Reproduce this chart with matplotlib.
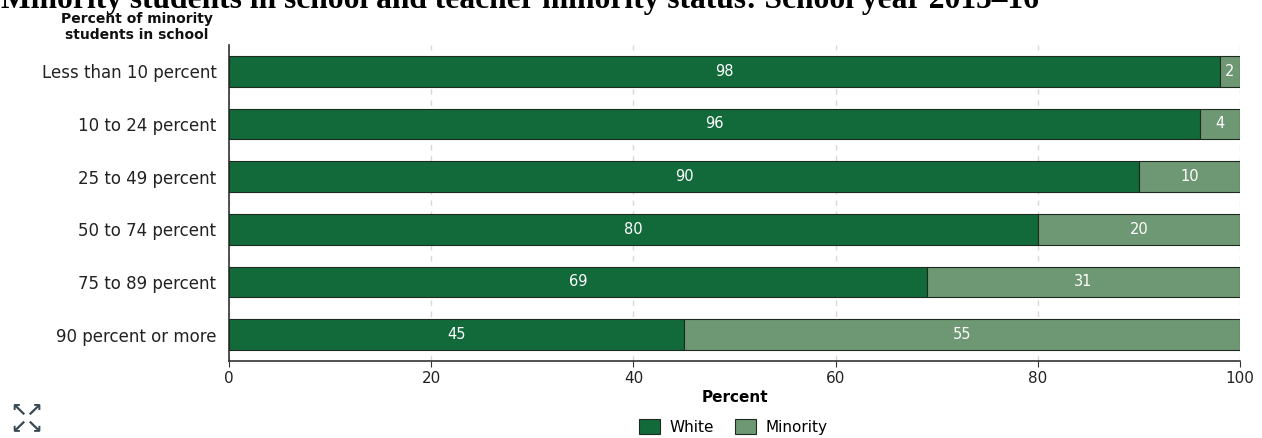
import numpy as np
import matplotlib.pyplot as plt

categories = ['Less than 10 percent', '10 to 24 percent', '25 to 49 percent',
              '50 to 74 percent', '75 to 89 percent', '90 percent or more']
white = [98, 96, 90, 80, 69, 45]
minority = [2, 4, 10, 20, 31, 55]
xticks = [0, 20, 40, 60, 80, 100]

dark_green = '#126a3a'
light_green = '#6e9773'

plt.rcParams['font.family'] = ['DejaVu Sans']

fig = plt.figure(figsize=(12.62, 4.38), dpi=100)
ax = fig.add_axes([229 / 1262, 1 - 361 / 438, 1011 / 1262, 316 / 438])

y = np.arange(len(categories))
h = 0.58
ax.barh(y, white, height=h, color=dark_green, edgecolor='#1c2a20', linewidth=0.8, zorder=3, label='White')
ax.barh(y, minority, left=white, height=h, color=light_green, edgecolor='#1c2a20', linewidth=0.8, zorder=3, label='Minority')

# value labels in the middle of each segment
for i in range(len(categories)):
    ax.text(white[i] / 2, y[i], str(white[i]), color='white', ha='center', va='center', fontsize=10.5, zorder=4)
    ax.text(white[i] + minority[i] / 2, y[i], str(minority[i]), color='white', ha='center', va='center', fontsize=10.5, zorder=4)

ax.set_xlim(0, 100)
ax.set_ylim(len(categories) - 0.5, -0.5)
ax.set_yticks(y)
ax.set_yticklabels(categories, fontsize=12, color='#222222')
ax.set_xticks(xticks)
ax.set_xticklabels([str(t) for t in xticks], fontsize=11, color='#222222')
ax.tick_params(axis='y', length=0, pad=9)
ax.tick_params(axis='x', length=4, color='#333333', pad=3)
ax.grid(axis='x', color='#d8d8d8', linestyle=(0, (4, 4)), linewidth=1, zorder=0)
for s in ['top', 'right']:
    ax.spines[s].set_visible(False)
ax.spines['left'].set_color('#333333')
ax.spines['bottom'].set_color('#333333')
ax.spines['left'].set_linewidth(1.2)
ax.spines['bottom'].set_linewidth(1.2)
ax.set_xlabel('Percent', fontsize=11, fontweight='bold', labelpad=3)

fig.text(0.001, 1 - 8 / 438, 'Minority students in school and teacher minority status: School year 2015\u201316',
         family='Liberation Serif', fontweight='bold', fontsize=22.7, va='baseline', ha='left')
fig.text(137 / 1262, 1 - 27 / 438, 'Percent of minority\nstudents in school', fontsize=10,
         fontweight='bold', ha='center', va='center', linespacing=1.1, color='#111111')

fig.legend(loc='center', bbox_to_anchor=(733 / 1262, 1 - 427 / 438), ncol=2, frameon=False,
           fontsize=11, handlelength=1.4, handleheight=1.1, columnspacing=1.4, handletextpad=0.6)

fig.text(27 / 1262, 1 - 419 / 438, '\u2196\u2197\n\u2199\u2198', family='DejaVu Sans', fontsize=14,
         fontweight='bold', color='#3a4a55', ha='center', va='center', linespacing=0.85)

fig.savefig('out.png', dpi=100)
